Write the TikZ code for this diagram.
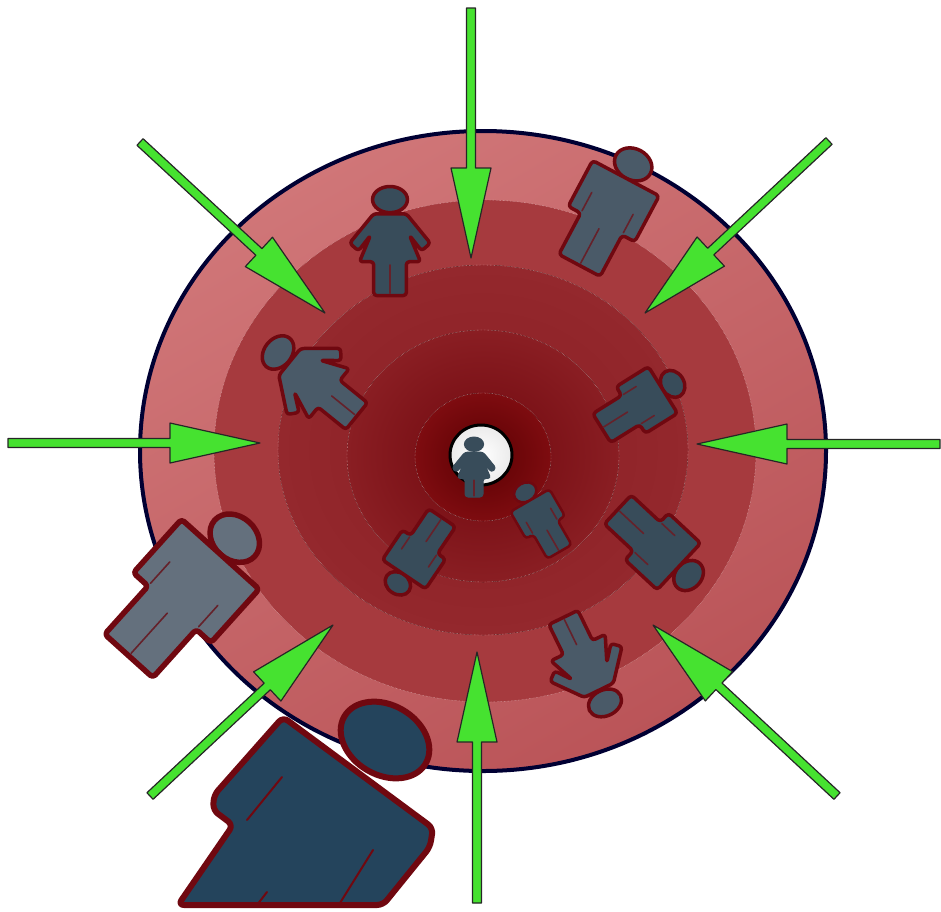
\documentclass[tikz,border=0pt]{standalone}
\usetikzlibrary{calc}

\definecolor{ringA}{RGB}{208,118,120}
\definecolor{ringB}{RGB}{186,84,88}
\definecolor{ringC}{RGB}{166,58,62}
\definecolor{ringD}{RGB}{148,40,45}
\definecolor{ringE}{RGB}{138,30,35}
\definecolor{ringF}{RGB}{112,8,14}
\definecolor{ringG}{RGB}{126,12,16}
\definecolor{ringH}{RGB}{92,0,2}
\definecolor{iconEdge}{RGB}{112,8,16}
\definecolor{iconDark}{RGB}{36,68,92}
\definecolor{iconGrey}{RGB}{100,112,125}
\definecolor{iconSlate}{RGB}{74,90,104}
\definecolor{iconDeep}{RGB}{56,76,90}
\definecolor{pushGreen}{RGB}{70,226,48}

\tikzset{
    ringline/.style={draw=white!70!ringC, line width=0.4pt, densely dotted},
    pusharrow/.style={draw=black!85, fill=pushGreen, line width=1.2pt, line join=round},
    iconbody/.style={draw=iconEdge, line width=#1, line join=round},
    iconbody/.default=3.5pt,
    slit/.style={draw=iconEdge!70!iconSlate, line width=1.6pt, line cap=round, fill=none},
    % one person, 100 units tall, head up
    manicon/.pic={
        \draw[pic actions] (0,-38) ellipse (15 and 12);
        \draw[pic actions, rounded corners=3.5pt] (-29,-26) -- (29,-26) -- (29,14) -- (18,14) -- (18,50)
            -- (-18,50) -- (-18,14) -- (-29,14) -- cycle;
        \draw[slit] (-18,-4) -- (-18,12);
        \draw[slit] (18,-4) -- (18,12);
        \draw[slit] (0,18) -- (0,48);
    },
    womanicon/.pic={
        \draw[pic actions] (0,-38) ellipse (16 and 12);
        \draw[pic actions, rounded corners=3pt] (-15,-25) -- (15,-25) -- (37,2) -- (29,9) -- (18,-5)
            -- (28,19) -- (15,19) -- (15,50) -- (-15,50) -- (-15,19) -- (-28,19) -- (-18,-5)
            -- (-29,9) -- (-37,2) -- cycle;
        \draw[slit] (0,22) -- (0,48);
    }
}

\newcommand{\inarrow}[2]{
    \coordinate (headbase) at ($(#2)!90pt!(#1)$);
    \draw[pusharrow] ($(#1)!4.5pt!90:(#2)$) -- ($(headbase)!4.5pt!-90:(#1)$) -- ($(headbase)!20pt!-90:(#1)$)
        -- (#2) -- ($(headbase)!20pt!90:(#1)$) -- ($(headbase)!4.5pt!90:(#1)$) -- ($(#1)!4.5pt!-90:(#2)$) -- cycle;
}

\begin{document}
\begin{tikzpicture}[x=1pt, y=-1pt]

    \useasboundingbox (0,0) rectangle (941,911);

% ---------- rings ----------
    \draw[draw=black!80!blue, line width=4pt, top color=ringA, bottom color=ringB, shading angle=30]
        (483,451) ellipse (343 and 320);
    \fill[ringC] (485,451) ellipse (271 and 251);
    \draw[ringline] (485,451) ellipse (271 and 251);
    \fill[inner color=ringE, outer color=ringD] (483,450) ellipse (205 and 185);
    \draw[ringline] (483,450) ellipse (205 and 185);
    \fill[inner color=ringF, outer color=ringE] (483,456) ellipse (136 and 126);
    \draw[ringline] (483,456) ellipse (136 and 126);
    \fill[inner color=ringH, outer color=ringG] (483,457) ellipse (68 and 64);
    \draw[ringline] (483,457) ellipse (68 and 64);
    \draw[draw=black, line width=3pt, inner color=white, outer color=white!92!black] (481,455) ellipse (31 and 30);

% ---------- arrows ----------
    \coordinate (topS) at (471,8);        \coordinate (topT) at (471,258);
    \coordinate (upleftS) at (140,142);   \coordinate (upleftT) at (325,313);
    \coordinate (uprightS) at (829,141);  \coordinate (uprightT) at (645,313);
    \coordinate (leftS) at (8,443);       \coordinate (leftT) at (260,443);
    \coordinate (rightS) at (940,444);    \coordinate (rightT) at (697,444);
    \coordinate (botS) at (477,903);      \coordinate (botT) at (477,652);
    \coordinate (lowleftS) at (150,796);  \coordinate (lowleftT) at (333,625);
    \coordinate (lowrightS) at (837,796); \coordinate (lowrightT) at (653,625);
    \foreach \dir in {top,upleft,upright,left,right,bot,lowleft,lowright}{
        \inarrow{\dir S}{\dir T}
    }

% ---------- people on the rings ----------
    \pic[iconbody, fill=iconDeep] at (390,241) [scale=1.09] {womanicon};
    \pic[iconbody, fill=iconSlate] at (610,208) [scale=1.3, rotate=-28] {manicon};
    \pic[iconbody, fill=iconSlate] at (312,380) [scale=1.15, rotate=51] {womanicon};
    \pic[iconbody, fill=iconDeep] at (642,403) [scale=0.95, rotate=-58] {manicon};
    \pic[iconbody=1pt, draw=iconDeep, fill=iconDeep] at (474,467) [scale=0.6] {womanicon};
    \pic[iconbody=2.5pt, fill=iconDeep] at (540,518) [scale=0.78, rotate=30] {manicon};
    \pic[iconbody, fill=iconDeep] at (417,555) [scale=0.9, rotate=146] {manicon};
    \pic[iconbody, fill=iconDeep] at (658,547) [scale=1.1, rotate=-133] {manicon};
    \pic[iconbody, fill=iconSlate] at (587,666) [scale=1.08, rotate=-154] {womanicon};
    \pic[iconbody=5.5pt, fill=iconGrey] at (189,589) [scale=1.8, rotate=-42] {manicon};

% ---------- big person in front ----------
    \draw[iconbody=6pt, fill=iconDark, rounded corners=6pt]
        (283,717) -- (433,828) -- (430,847) -- (383,905) -- (178,905) -- (233,825) -- (213,810)
        -- (214,795) -- cycle;
    \draw[iconbody=6pt, fill=iconDark] (385,740) ellipse[x radius=47, y radius=35, rotate=-30];
    \draw[slit, draw=iconEdge, line width=2pt] (282,777) -- (247,820);
    \draw[slit, draw=iconEdge, line width=2pt] (373,850) -- (340,903);
    \draw[slit, draw=iconEdge, line width=2pt] (267,892) -- (257,905);

\end{tikzpicture}
\end{document}
